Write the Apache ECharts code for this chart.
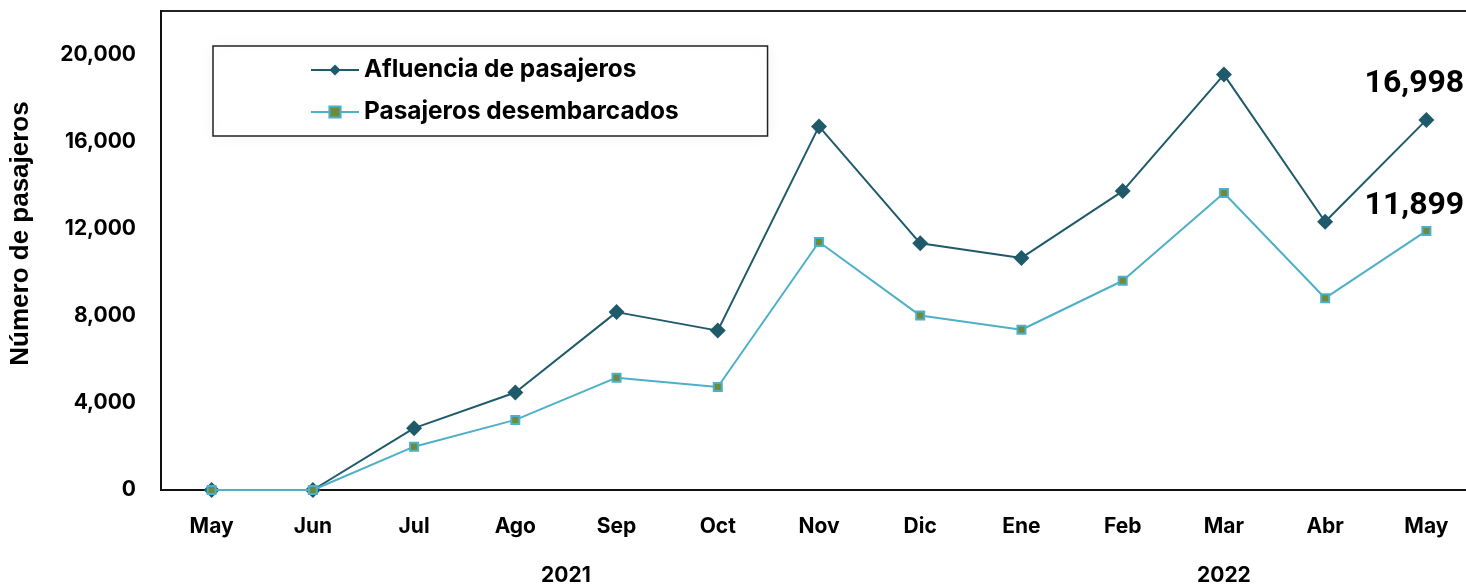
<!DOCTYPE html>
<html>
<head>
<meta charset="utf-8">
<script src="https://cdn.jsdelivr.net/npm/echarts@6/dist/echarts.min.js"></script>
<style>
  html, body { margin: 0; padding: 0; background: #fff; overflow: hidden; }
  #chart { width: 1466px; height: 585px; }
</style>
</head>
<body>
<div id="chart"></div>
<script>
  let months = ['May', 'Jun', 'Jul', 'Ago', 'Sep', 'Oct', 'Nov', 'Dic', 'Ene', 'Feb', 'Mar', 'Abr', 'May'];
  let years = [
    { name: '2021', from: 0, to: 7 },
    { name: '2022', from: 8, to: 12 }
  ];
  let afluencia = [0, 0, 2840, 4480, 8170, 7320, 16700, 11330, 10660, 13730, 19080, 12320, 16998];
  let desembarcados = [0, 0, 1990, 3220, 5160, 4730, 11390, 8010, 7360, 9610, 13640, 8810, 11899];

  let yTicks = [0, 4000, 8000, 12000, 16000, 20000];

  let chart = echarts.init(document.getElementById('chart'));
  let font = 'Inter';

  let lastLabel = (dist) => {
    return {
      show: true,
      position: 'top',
      distance: dist,
      offset: [-12, 0],
      color: '#000',
      fontFamily: 'Roboto',
      fontWeight: 'bold',
      fontSize: 32,
      formatter: (p) => p.value.toLocaleString('en-US')
    };
  };

  let option = {
    animation: false,
    grid: {
      left: 161,
      top: 11,
      width: 1316,
      height: 479,
      containLabel: false,
      outerBoundsMode: 'none',
      show: true,
      borderColor: '#222',
      borderWidth: 2
    },
    legend: {
      orient: 'vertical',
      left: 213,
      top: 46,
      backgroundColor: '#fff',
      borderColor: '#222',
      borderWidth: 1.5,
      borderRadius: 0,
      padding: [10, 89, 10, 97],
      itemGap: 14,
      itemWidth: 48,
      itemHeight: 14,
      shadowColor: 'rgba(0,0,0,0.06)',
      shadowBlur: 14,
      textStyle: {
        color: '#000',
        fontFamily: font,
        fontWeight: 'bold',
        fontSize: 24.4,
        lineHeight: 28
      },
      data: ['Afluencia de pasajeros', 'Pasajeros desembarcados']
    },
    xAxis: {
      type: 'category',
      data: months,
      boundaryGap: true,
      axisLine: { lineStyle: { color: '#111', width: 2 } },
      axisTick: { show: false },
      axisLabel: {
        margin: 26,
        color: '#000',
        fontFamily: font,
        fontWeight: 'bold',
        fontSize: 21
      }
    },
    yAxis: {
      type: 'value',
      min: 0,
      max: 22000,
      interval: 4000,
      name: 'Número de pasajeros',
      nameLocation: 'middle',
      nameGap: 127,
      nameTextStyle: {
        color: '#000',
        fontFamily: 'Liberation Sans',
        fontWeight: 'bold',
        fontSize: 26,
        padding: [0, 0, 0, 34]
      },
      axisLine: { show: true, lineStyle: { color: '#111', width: 2 } },
      axisTick: { show: false },
      splitLine: { show: false },
      axisLabel: {
        margin: 25,
        color: '#000',
        fontFamily: font,
        fontWeight: 'bold',
        fontSize: 21,
        formatter: (v) => yTicks.includes(v) ? v.toLocaleString('en-US') : ''
      }
    },
    series: [
      {
        name: 'Afluencia de pasajeros',
        type: 'line',
        data: afluencia.map((v, i) => i === afluencia.length - 1 ? { value: v, label: lastLabel(12) } : v),
        symbol: 'diamond',
        symbolSize: 16,
        z: 3,
        lineStyle: { color: '#1f5a6b', width: 2 },
        itemStyle: { color: '#1f5a6b' }
      },
      {
        name: 'Pasajeros desembarcados',
        type: 'line',
        data: desembarcados.map((v, i) => i === desembarcados.length - 1 ? { value: v, label: lastLabel(4) } : v),
        symbol: 'rect',
        symbolSize: 8,
        z: 4,
        lineStyle: { color: '#4db0c8', width: 2 },
        itemStyle: { color: '#6e8a3c', borderColor: '#4db0c8', borderWidth: 2 }
      }
    ]
  };

  chart.setOption(option);

  // year labels centred under their group of months
  let graphics = years.map((y) => {
    let x1 = chart.convertToPixel({ xAxisIndex: 0 }, y.from);
    let x2 = chart.convertToPixel({ xAxisIndex: 0 }, y.to);
    return {
      type: 'text',
      x: (x1 + x2) / 2,
      y: 576,
      style: {
        text: y.name,
        fill: '#000',
        font: 'bold 21px Inter',
        textAlign: 'center',
        textVerticalAlign: 'middle'
      }
    };
  });
  chart.setOption({ graphic: graphics });
</script>
</body>
</html>
